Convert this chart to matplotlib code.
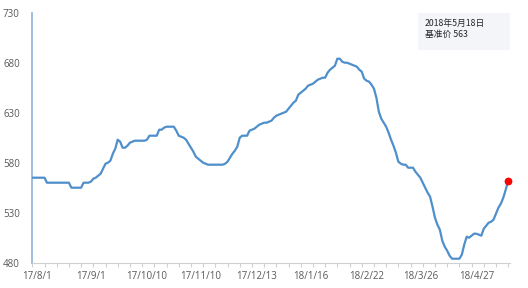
import matplotlib
matplotlib.use("Agg")
import matplotlib.pyplot as plt
import numpy as np

# Daily benchmark price, 2017/8/1 .. 2018/5/18
values = [
    565, 565, 565, 565, 565, 565, 560, 560, 560, 560,
    560, 560, 560, 560, 560, 560, 555, 555, 555, 555,
    555, 560, 560, 560, 561, 564, 565, 567, 569, 574,
    579, 580, 582, 589, 594, 603, 601, 595, 595, 597,
    600, 601, 602, 602, 602, 602, 602, 603, 607, 607,
    607, 607, 613, 613, 615, 616, 616, 616, 616, 612,
    607, 606, 605, 603, 599, 595, 591, 586, 584, 582,
    580, 579, 578, 578, 578, 578, 578, 578, 578, 579,
    581, 585, 589, 592, 596, 605, 607, 607, 607, 612,
    613, 614, 616, 618, 619, 620, 620, 621, 622, 625,
    627, 628, 629, 630, 631, 634, 637, 640, 642, 648,
    650, 652, 654, 657, 658, 659, 661, 663, 664, 665,
    665, 670, 673, 675, 677, 684, 684, 681, 680, 680,
    679, 678, 677, 676, 673, 671, 664, 662, 661, 658,
    654, 645, 631, 624, 620, 616, 610, 603, 597, 590,
    581, 579, 578, 578, 575, 575, 575, 571, 568, 565,
    560, 555, 550, 546, 536, 525, 518, 513, 502, 496,
    492, 487, 484, 484, 484, 484, 488, 498, 506, 505,
    507, 509, 509, 508, 507, 514, 517, 520, 521, 523,
    529, 535, 539, 545, 553, 562,
]
tick_labels = ["17/8/1", "17/9/1", "17/10/10", "17/11/10", "17/12/13",
               "18/1/16", "18/2/22", "18/3/26", "18/4/27"]
label_index = [2, 24, 47, 69, 92, 114, 137, 159, 182]
y_ticks = [480, 530, 580, 630, 680, 730]
note_date = "2018年5月18日"
note_price = "基准价 563"

plt.rcParams['font.family'] = ['Open Sans', 'DejaVu Sans']

W, H = 528, 288
fig = plt.figure(figsize=(W / 100, H / 100), dpi=100)
ax = fig.add_axes([32.3 / W, (H - 262.7) / H, (510 - 32.3) / W, 250 / H])

x = np.arange(len(values))
ax.plot(x, values, color="#4f8fcb", lw=1.6, solid_joinstyle="round", zorder=3)
ax.plot(x[-1], values[-1], "o", color="#ff0000", ms=4.6, zorder=4, clip_on=False)

ax.set_xlim(0, len(values) - 1 + 0.75)
ax.set_ylim(480, 730)

for s in ["top", "right"]:
    ax.spines[s].set_visible(False)
ax.spines["left"].set_color("#8db3dc")
ax.spines["left"].set_linewidth(1.2)
ax.spines["bottom"].set_color("#d0d0d0")
ax.spines["bottom"].set_linewidth(0.8)

ax.set_yticks(y_ticks)
ax.set_yticklabels([str(v) for v in y_ticks], fontsize=7, color="#595959")
ax.tick_params(axis="y", length=0, pad=9)

ax.set_xticks(label_index)
ax.set_xticklabels(tick_labels, fontsize=7, color="#595959")
ax.tick_params(axis="x", which="major", length=0, pad=6)
ax.set_xticks(np.arange(0, len(values), 5), minor=True)
ax.tick_params(axis="x", which="minor", length=3, color="#d0d0d0", width=0.8, direction="out")

# annotation box
box_ax = fig.add_axes([418 / W, (H - 49.7) / H, (510 - 418) / W, (49.7 - 13) / H])
box_ax.set_facecolor("#f3f5f9")
box_ax.set_xticks([]); box_ax.set_yticks([])
for s in box_ax.spines.values():
    s.set_visible(False)
box_ax.text(7 / 92, 0.72, note_date, transform=box_ax.transAxes, fontsize=6.3,
            color="#262626", va="center", ha="left", fontweight="medium",
            family=["Noto Sans CJK SC", "DejaVu Sans"])
box_ax.text(7 / 92, 0.42, note_price, transform=box_ax.transAxes, fontsize=6.3,
            color="#262626", va="center", ha="left", fontweight="medium",
            family=["Noto Sans CJK SC", "DejaVu Sans"])

fig.savefig("out.png", dpi=100, facecolor="white")
